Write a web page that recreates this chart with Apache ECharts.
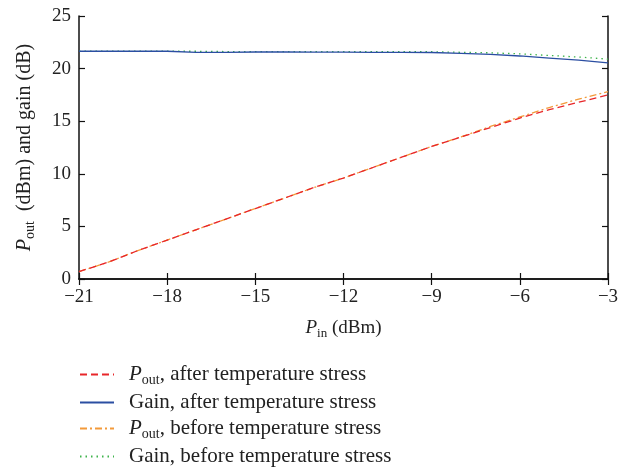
<!DOCTYPE html>
<html>
<head>
<meta charset="utf-8">
<script src="https://cdn.jsdelivr.net/npm/echarts@6/dist/echarts.min.js"></script>
<style>
html,body{margin:0;padding:0;background:#fff;}
#chart{width:634px;height:470px;}
</style>
</head>
<body>
<div id="chart"></div>
<script>
// input power (dBm)
var pin = [-21,-20,-19,-18,-17,-16,-15,-14,-13,-12,-11,-10,-9,-8,-7,-6,-5,-4,-3];
var poutAfter  = [0.7,1.6,2.7,3.7,4.7,5.7,6.7,7.7,8.7,9.6,10.6,11.6,12.6,13.5,14.4,15.3,16.1,16.8,17.5];
var gainAfter  = [21.65,21.65,21.65,21.65,21.55,21.55,21.58,21.58,21.57,21.57,21.55,21.55,21.53,21.45,21.35,21.2,21.0,20.8,20.55];
var poutBefore = [0.7,1.6,2.7,3.7,4.7,5.7,6.7,7.7,8.7,9.6,10.6,11.6,12.6,13.5,14.5,15.4,16.3,17.1,17.8];
var gainBefore = [21.65,21.65,21.65,21.65,21.65,21.62,21.62,21.62,21.62,21.62,21.62,21.6,21.6,21.55,21.5,21.4,21.25,21.1,20.9];
var seriesNames = ['pa','ga','pb','gb'];
var legendText = {
  pa:'{i|P}{sub|out}{t|, after temperature stress}',
  ga:'{t|Gain, after temperature stress}',
  pb:'{i|P}{sub|out}{t|, before temperature stress}',
  gb:'{t|Gain, before temperature stress}'
};

function pairs(ys){
  return pin.map(function(x,i){ return [x, ys[i]]; });
}

var font = 'Liberation Serif';
function richAt(size){
  return {
    i:{fontFamily:font,fontStyle:'italic',fontSize:size,color:'#222'},
    sub:{fontFamily:font,fontSize:Math.round(size*0.68),color:'#222',padding:[11,0,0,0]},
    t:{fontFamily:font,fontSize:size,color:'#222'}
  };
}

var chart = echarts.init(document.getElementById('chart'));
var axisLine = {show:true,lineStyle:{color:'#111',width:1.5}};
var tick = {show:true,inside:true,length:6,lineStyle:{color:'#111',width:1.2}};
var labelFmt = function(v){ return String(v).replace('-','\u2212'); };
var option = {
  backgroundColor:'#fff',
  animation:false,
  grid:{left:79,right:26,top:16,bottom:191},
  legend:{
    orient:'vertical',
    left:79,
    top:364,
    height:106,
    padding:0,
    itemWidth:34,
    itemHeight:12,
    itemGap:5,
    data:seriesNames,
    itemStyle:{opacity:0},
    formatter:function(n){ return legendText[n]; },
    textStyle:{fontFamily:font,fontSize:21,color:'#222',padding:[0,0,0,10],rich:richAt(21)}
  },
  xAxis:[{
    type:'value',min:-21,max:-3,interval:3,
    axisLine:axisLine,axisTick:tick,splitLine:{show:false},
    axisLabel:{fontFamily:font,fontSize:19,color:'#222',margin:9,formatter:labelFmt},
    name:'{i|P}{sub|in}{t| (dBm)}',
    nameLocation:'middle',nameGap:37,
    nameTextStyle:{rich:richAt(19)}
  },{
    type:'value',min:-21,max:-3,interval:3,position:'top',
    axisLine:axisLine,axisTick:tick,axisLabel:{show:false},splitLine:{show:false}
  }],
  yAxis:[{
    type:'value',min:0,max:25,interval:5,
    axisLine:axisLine,axisTick:tick,splitLine:{show:false},
    axisLabel:{fontFamily:font,fontSize:19,color:'#222',margin:8},
    name:'{i|P}{sub|out}{t|  (dBm) and gain (dB)}',
    nameLocation:'middle',nameGap:42,nameRotate:90,
    nameTextStyle:{rich:richAt(20)}
  },{
    type:'value',min:0,max:25,interval:5,position:'right',
    axisLine:axisLine,axisTick:tick,axisLabel:{show:false},splitLine:{show:false}
  }],
  series:[
    {name:'pa',type:'line',data:pairs(poutAfter),showSymbol:false,symbol:'none',
      lineStyle:{color:'#e8262a',width:1.3,type:[7,4]},itemStyle:{color:'#e8262a'},z:3},
    {name:'ga',type:'line',data:pairs(gainAfter),showSymbol:false,symbol:'none',
      lineStyle:{color:'#2b4ea2',width:1.3,type:'solid'},itemStyle:{color:'#2b4ea2'},z:3},
    {name:'pb',type:'line',data:pairs(poutBefore),showSymbol:false,symbol:'none',
      lineStyle:{color:'#f39a3a',width:1.3,type:[7,3,2,3]},itemStyle:{color:'#f39a3a'},z:2},
    {name:'gb',type:'line',data:pairs(gainBefore),showSymbol:false,symbol:'none',
      lineStyle:{color:'#3fb44c',width:1.3,type:[1.5,4]},itemStyle:{color:'#3fb44c'},z:2}
  ]
};
chart.setOption(option);
</script>
</body>
</html>
